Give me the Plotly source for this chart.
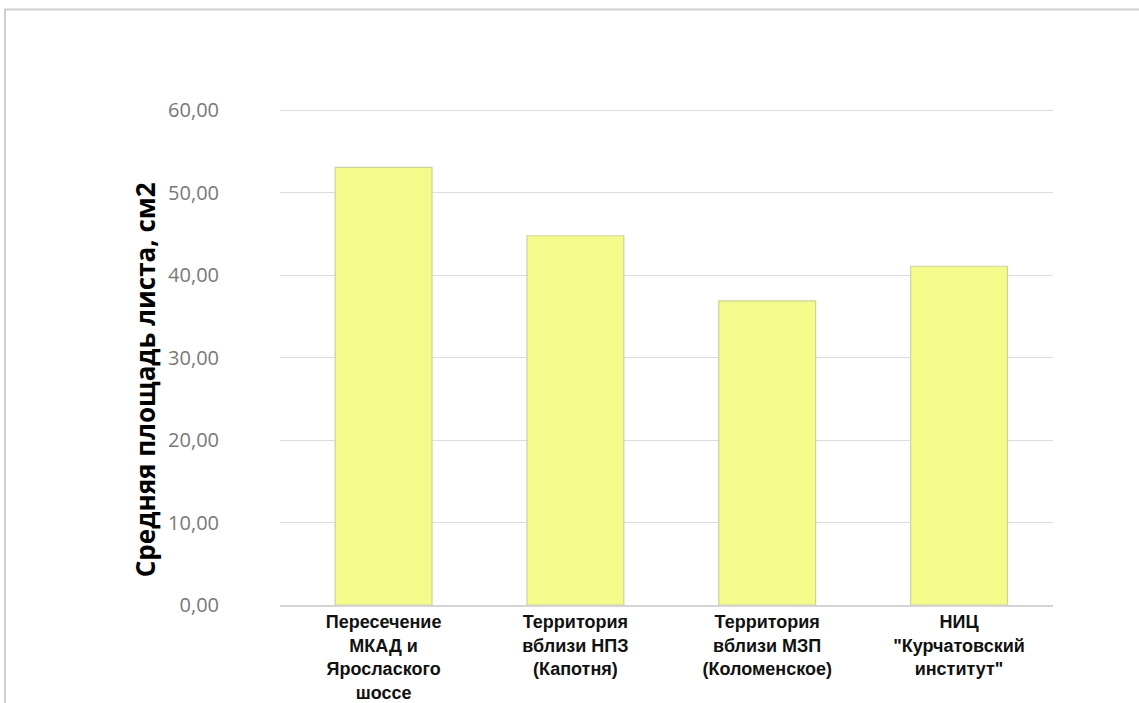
import plotly.graph_objects as go

categories = [
    "Пересечение<br>МКАД и<br>Ярослаского<br>шоссе",
    "Территория<br>вблизи НПЗ<br>(Капотня)",
    "Территория<br>вблизи МЗП<br>(Коломенское)",
    "НИЦ<br>\"Курчатовский<br>институт\"",
]
values = [53.1, 44.8, 36.9, 41.1]
tick_vals = [0, 10, 20, 30, 40, 50, 60]
tick_text = ["0,00", "10,00", "20,00", "30,00", "40,00", "50,00", "60,00"]
y_title = "Средняя площадь листа, см2"

W, H = 1139, 703
L, R, T, B = 280, 86, 107.5, 98
PW, PH = W - L - R, H - T - B

fig = go.Figure(
    go.Bar(
        x=categories,
        y=values,
        marker=dict(color="#F4FB8B", line=dict(color="#CFD1A0", width=1.2)),
        width=0.505,
    )
)

fig.update_layout(
    width=W,
    height=H,
    margin=dict(l=L, r=R, t=T, b=B, autoexpand=False),
    paper_bgcolor="white",
    plot_bgcolor="white",
    showlegend=False,
    font=dict(family="Liberation Sans, Arial", color="black"),
)

fig.update_xaxes(
    range=[-0.54, 3.49],
    automargin=False,
    showgrid=False,
    showline=True,
    linecolor="#D4D4D4",
    linewidth=1.5,
    ticks="",
    tickfont=dict(family="Liberation Sans, Arial", size=18, color="#111111", weight="bold"),
)

fig.update_yaxes(
    range=[0, 60.3],
    automargin=False,
    tickvals=tick_vals,
    ticktext=tick_text,
    showgrid=True,
    gridcolor="#DCDCDC",
    gridwidth=1.2,
    zeroline=False,
    showline=False,
    ticks="outside",
    ticklen=0,
    ticklabelstandoff=56,
    tickfont=dict(family="Open Sans", size=20, color="#787878"),
)

# y-axis title
fig.add_annotation(
    text=y_title,
    xref="paper", yref="paper",
    x=(145 - L) / PW, y=(H - B - 380) / PH,
    xanchor="center", yanchor="middle",
    textangle=-90,
    showarrow=False,
    font=dict(family="Open Sans", size=26, color="black", weight="bold"),
)

# outer frame (light grey)
fig.add_shape(
    type="rect",
    xref="paper", yref="paper",
    x0=(5 - L) / PW, x1=(W + 10 - L) / PW,
    y0=(-10 - B) / PH, y1=(H - 9 - B) / PH,
    line=dict(color="#D0D0D0", width=2),
    fillcolor="rgba(0,0,0,0)",
    layer="below",
)

fig.write_html("out.html")
